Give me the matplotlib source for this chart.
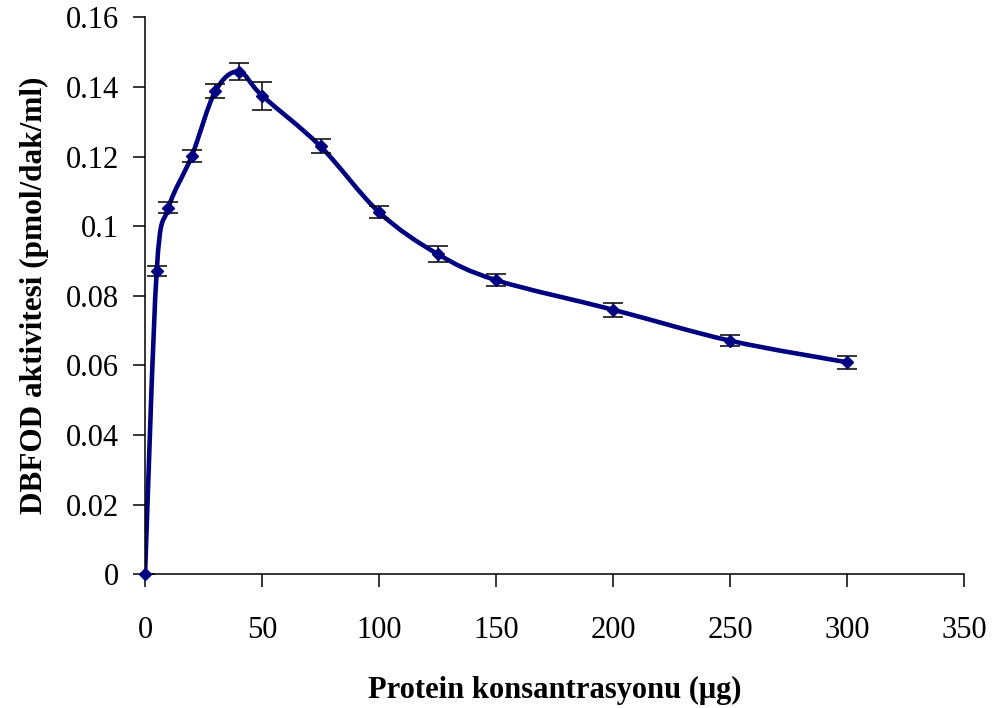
import matplotlib
matplotlib.use("Agg")
import matplotlib.pyplot as plt
from matplotlib.path import Path
from matplotlib.patches import PathPatch

# protein amount (ug) and DBFOD activity (pmol/dak/ml)
protein = [0, 5, 10, 20, 30, 40, 50, 75, 100, 125, 150, 200, 250, 300]
activity = [0.0, 0.0872, 0.1053, 0.1202, 0.1387, 0.1444, 0.1375,
            0.1229, 0.1040, 0.0920, 0.0845, 0.0760, 0.0671, 0.0609]
error = [0.0, 0.0014, 0.0015, 0.0018, 0.0020, 0.0025, 0.0040,
         0.0020, 0.0017, 0.0023, 0.0018, 0.0020, 0.0015, 0.0018]

xticks = [0, 50, 100, 150, 200, 250, 300, 350]
yticks = [0, 0.02, 0.04, 0.06, 0.08, 0.1, 0.12, 0.14, 0.16]
ytick_labels = ["0", "0.02", "0.04", "0.06", "0.08", "0.1", "0.12", "0.14", "0.16"]

plt.rcParams['font.family'] = ['Liberation Serif', 'DejaVu Serif']

navy = "#000080"


def smooth_path(xs, ys):
    # Excel style smoothed line: cubic bezier through every point
    n = len(xs)
    verts = [(xs[0], ys[0])]
    codes = [Path.MOVETO]
    for i in range(n - 1):
        x0, y0 = xs[max(i - 1, 0)], ys[max(i - 1, 0)]
        x1, y1 = xs[i], ys[i]
        x2, y2 = xs[i + 1], ys[i + 1]
        x3, y3 = xs[min(i + 2, n - 1)], ys[min(i + 2, n - 1)]
        c1 = (x1 + (x2 - x0) / 6, y1 + (y2 - y0) / 6)
        c2 = (x2 - (x3 - x1) / 6, y2 - (y3 - y1) / 6)
        verts += [c1, c2, (x2, y2)]
        codes += [Path.CURVE4] * 3
    return Path(verts, codes)


fig = plt.figure(figsize=(9.94, 7.08), dpi=100)
ax = fig.add_axes([0.1459, 0.1888, 0.8241, 0.7868])

ax.add_patch(PathPatch(smooth_path(protein, activity), facecolor="none",
                       edgecolor=navy, lw=3.3, zorder=2, capstyle="round"))
ax.errorbar(protein, activity, yerr=error, fmt="none", ecolor="black",
            elinewidth=1.1, capsize=7, capthick=1.1, zorder=3)
ax.plot(protein, activity, linestyle="none", marker="D", markersize=6.5,
        color=navy, zorder=4, clip_on=False)

ax.set_xlim(0, 350)
ax.set_ylim(0, 0.16)
ax.set_xticks(xticks)
ax.set_yticks(yticks)
ax.set_yticklabels(ytick_labels)
ax.spines['top'].set_visible(False)
ax.spines['right'].set_visible(False)
for s in ['left', 'bottom']:
    ax.spines[s].set_linewidth(1.1)
ax.tick_params(axis='both', direction='out', length=9, width=1.1, labelsize=22)
ax.tick_params(axis='x', pad=21)
ax.tick_params(axis='y', pad=10)

ax.set_xlabel("Protein konsantrasyonu (\u03bcg)", fontsize=22, fontweight="bold", labelpad=22)
ax.set_ylabel("DBFOD aktivitesi (pmol/dak/ml)", fontsize=22.5, fontweight="bold", labelpad=12)

fig.savefig("out.png", dpi=100)
